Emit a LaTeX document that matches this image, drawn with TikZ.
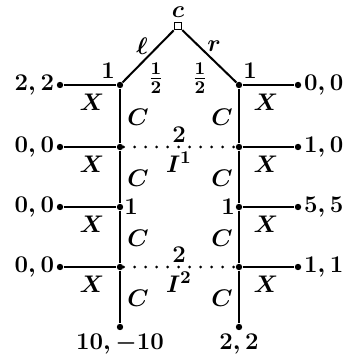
\documentclass[tikz,border=0pt]{standalone}
\usetikzlibrary{calc}

\begin{document}
\begin{tikzpicture}[x=0.5pt, y=-0.5pt, font=\fontsize{13}{15}\selectfont\bfseries\boldmath,
  dec/.style={circle, fill, inner sep=0pt, minimum size=3.2pt},
  edge/.style={line width=1pt},
  info/.style={line width=1.5pt, line cap=round, dash pattern=on 0pt off 5.5pt}]
  \useasboundingbox (0,0) rectangle (347,362);
  % chance node
  \node[draw, line width=0.8pt, fill=white, inner sep=0pt, minimum size=3.5pt] (c) at (178,26) {};
  \node at (178,12) {$c$};
  % decision nodes of the two columns, and exits
  \foreach \i/\y in {1/85,2/147,3/207,4/267}{
    \node[dec] (L\i) at (120,\y) {};
    \node[dec] (R\i) at (239,\y) {};
    \node[dec] (lt\i) at (60,\y) {};
    \node[dec] (rt\i) at (298,\y) {};
    \draw[edge] (lt\i) -- (L\i);
    \draw[edge] (R\i) -- (rt\i);
    \node at (92,\y+17) {$X$};
    \node at (266,\y+17) {$X$};
  }
  \node[dec] (LB) at (120,327) {};
  \node[dec] (RB) at (239,327) {};
  % moves of chance
  \draw[edge] (c) -- (L1);
  \draw[edge] (c) -- (R1);
  \node at (142,46) {$\ell$};
  \node at (214,46) {$r$};
  \node at (156,78) {$\frac12$};
  \node at (200,78) {$\frac12$};
  % continue moves
  \foreach \a/\b/\y in {1/2/117,2/3/178,3/4/238,4/B/298}{
    \draw[edge] (L\a) -- (L\b);
    \draw[edge] (R\a) -- (R\b);
    \node at (138,\y) {$C$};
    \node at (222,\y) {$C$};
  }
  % players
  \node at (108,71) {$1$};
  \node at (250,71) {$1$};
  \node at (131,207) {$1$};
  \node at (228,207) {$1$};
  % information sets of player 2
  \draw[info] (L2) -- (R2);
  \draw[info] (L4) -- (R4);
  \node at (179,135) {$2$};
  \node at (179,162) {$I^1$};
  \node at (179,255) {$2$};
  \node at (179,282) {$I^2$};
  % payoffs
  \node[anchor=east, inner sep=1pt] at (lt1.west) {$2,2$};
  \node[anchor=east, inner sep=1pt] at (lt2.west) {$0,0$};
  \node[anchor=east, inner sep=1pt] at (lt3.west) {$0,0$};
  \node[anchor=east, inner sep=1pt] at (lt4.west) {$0,0$};
  \node[anchor=west, inner sep=1pt] at (rt1.east) {$0,0$};
  \node[anchor=west, inner sep=1pt] at (rt2.east) {$1,0$};
  \node[anchor=west, inner sep=1pt] at (rt3.east) {$5,5$};
  \node[anchor=west, inner sep=1pt] at (rt4.east) {$1,1$};
  \node[below=0pt] at (LB) {$10,-10$};
  \node[below=0pt] at (RB) {$2,2$};
\end{tikzpicture}
\end{document}
